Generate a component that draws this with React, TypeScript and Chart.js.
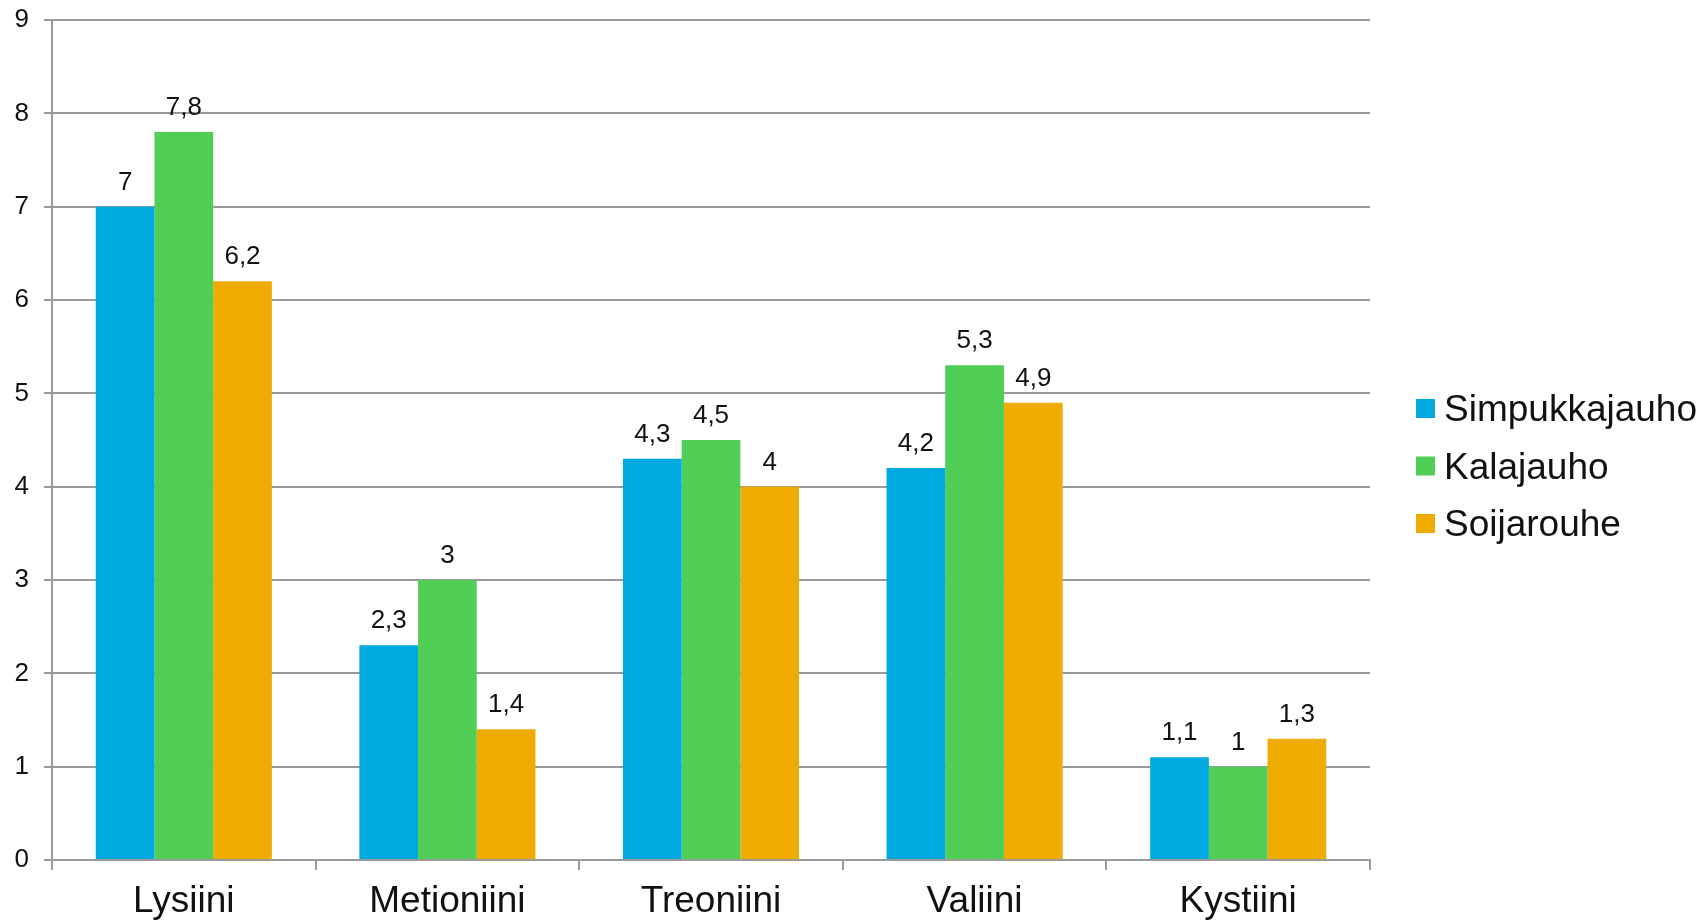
import React, { useEffect, useRef } from "react";
import { Chart, registerables } from "chart.js";

Chart.register(...registerables);

// Amino acid content per feed source
const categories = ["Lysiini", "Metioniini", "Treoniini", "Valiini", "Kystiini"];
const simpukkajauho = [7, 2.3, 4.3, 4.2, 1.1];
const kalajauho = [7.8, 3, 4.5, 5.3, 1];
const soijarouhe = [6.2, 1.4, 4, 4.9, 1.3];
const seriesNames = ["Simpukkajauho", "Kalajauho", "Soijarouhe"];
const seriesColors = ["#00A9E0", "#51CE55", "#F0AB00"];
const yTicks = [0, 1, 2, 3, 4, 5, 6, 7, 8, 9];

const FONT = "'Liberation Sans', Arial, sans-serif";
const GRID = "#9a9a9a";

const fmt = (v: number) => String(v).replace(".", ",");

// Value labels above each bar
const valueLabels = {
  id: "valueLabels",
  afterDatasetsDraw(chart: any) {
    const ctx = chart.ctx;
    ctx.save();
    ctx.font = `26px ${FONT}`;
    ctx.fillStyle = "#111";
    ctx.textAlign = "center";
    ctx.textBaseline = "alphabetic";
    chart.data.datasets.forEach((ds: any, di: number) => {
      const meta = chart.getDatasetMeta(di);
      meta.data.forEach((bar: any, i: number) => {
        ctx.fillText(fmt(ds.data[i]), bar.x, bar.y - 17);
      });
    });
    ctx.restore();
  },
};

// Legend to the right of the plot
const sideLegend = {
  id: "sideLegend",
  afterDraw(chart: any) {
    const ctx = chart.ctx;
    const { right } = chart.chartArea;
    const box = 19;
    const rowGap = 57.5;
    const n = chart.data.datasets.length;
    const cy0 = chart.height / 2 + 4.5 - ((n - 1) / 2) * rowGap;
    ctx.save();
    ctx.font = `37px ${FONT}`;
    ctx.textAlign = "left";
    ctx.textBaseline = "alphabetic";
    chart.data.datasets.forEach((ds: any, i: number) => {
      const cy = cy0 + i * rowGap;
      const bx = right + 46;
      ctx.fillStyle = ds.backgroundColor;
      ctx.fillRect(bx, cy - box / 2, box, box);
      ctx.fillStyle = "#111";
      ctx.fillText(ds.label, bx + box + 9, cy + 12.5);
    });
    ctx.restore();
  },
};

export default function App() {
  const ref = useRef<HTMLCanvasElement | null>(null);

  useEffect(() => {
    document.body.style.margin = "0";
    const canvas = ref.current;
    if (!canvas) return;
    const seriesData = [simpukkajauho, kalajauho, soijarouhe];
    const chart = new Chart(canvas, {
      type: "bar",
      data: {
        labels: categories,
        datasets: seriesNames.map((name, i) => ({
          label: name,
          data: seriesData[i],
          backgroundColor: seriesColors[i],
          borderWidth: 0,
          categoryPercentage: 0.668,
          barPercentage: 1,
        })),
      },
      options: {
        animation: false,
        responsive: true,
        maintainAspectRatio: false,
        layout: { padding: { top: 20, right: 332, bottom: 0, left: 0 } },
        plugins: {
          legend: { display: false },
          tooltip: { enabled: false },
        },
        scales: {
          x: {
            offset: true,
            grid: {
              offset: true,
              drawOnChartArea: false,
              drawTicks: true,
              tickLength: 10,
              color: GRID,
              lineWidth: 2,
            },
            border: { display: true, color: GRID, width: 2 },
            ticks: {
              padding: 10,
              color: "#111",
              font: { family: FONT, size: 37 },
              maxRotation: 0,
            },
            afterFit(scale: any) {
              scale.height = 63;
              scale.paddingLeft = 0;
              scale.paddingRight = 0;
            },
          },
          y: {
            min: 0,
            max: 9,
            afterBuildTicks(scale: any) {
              scale.ticks = yTicks.map((v) => ({ value: v }));
            },
            grid: {
              color: GRID,
              lineWidth: 2,
              tickLength: 8,
              drawTicks: true,
            },
            border: { display: true, color: GRID, width: 2 },
            ticks: {
              padding: 15,
              color: "#111",
              font: { family: FONT, size: 26 },
            },
            afterFit(scale: any) {
              scale.width = 52;
              scale.paddingTop = 0;
              scale.paddingBottom = 0;
            },
          },
        },
      },
      plugins: [valueLabels, sideLegend],
    });
    return () => chart.destroy();
  }, []);

  return (
    <div style={{ width: "1702px", height: "923px", position: "relative", background: "#fff" }}>
      <canvas ref={ref} />
    </div>
  );
}
